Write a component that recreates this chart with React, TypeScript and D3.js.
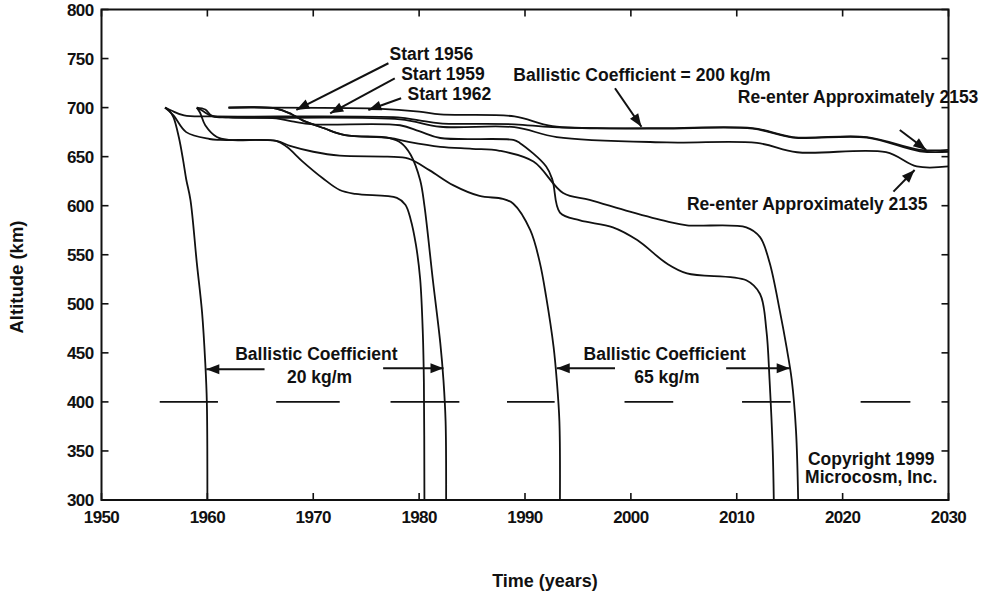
import React from 'react';
import * as d3 from 'd3';

type Pt = [number, number];

const xTicks = [1950, 1960, 1970, 1980, 1990, 2000, 2010, 2020, 2030];
const yTicks = [300, 350, 400, 450, 500, 550, 600, 650, 700, 750, 800];

// Ballistic coefficient 20 kg/m
const bc20Start1956: Pt[] = [[1956,700],[1956.4,697],[1956.8,690],[1957.3,670],[1957.7,647],[1958.0,627],[1958.4,606],[1959.0,542],[1959.5,491],[1959.8,440],[1959.95,400],[1960,300]];
const bc20Start1959: Pt[] = [[1959,700],[1959.3,695],[1959.8,682],[1960.9,670],[1962.1,667],[1966.5,666],[1967.5,660],[1969,645],[1970.9,628],[1972.5,616],[1974,612],[1977.9,608],[1978.7,601],[1979.2,586],[1979.7,560],[1980.1,525],[1980.35,470],[1980.45,420],[1980.5,300]];
const bc20Start1962: Pt[] = [[1962,700],[1966.5,699],[1968,693],[1969,687],[1971,679],[1973,672],[1977.2,669],[1978.3,664],[1979.2,652],[1980.1,626],[1980.5,600],[1981.3,524],[1982,460],[1982.3,422],[1982.5,380],[1982.55,300]];
// Ballistic coefficient 65 kg/m
const bc65Start1956: Pt[] = [[1956,700],[1956.8,692],[1958.0,675],[1960.2,668],[1961.2,667],[1966.5,666],[1967.8,661],[1970,655],[1972.5,651],[1977,650],[1979,648],[1981,636],[1983.2,621],[1985.7,610],[1987.9,607],[1988.9,602],[1990.5,575],[1991.4,542],[1992,507],[1992.7,456],[1993.0,422],[1993.25,380],[1993.3,300]];
const bc65Start1959: Pt[] = [[1959,700],[1959.5,697],[1960.5,691],[1962,690],[1966.5,689],[1968,686],[1970,683],[1978.2,682],[1980,676],[1982,669],[1988.9,667],[1989.5,664],[1992,640],[1992.6,626],[1993.3,593],[1995.2,585],[1998.3,578],[2000.6,565],[2003.4,541],[2005.3,531],[2010.9,524],[2012.2,510],[2012.8,473],[2013.1,422],[2013.4,350],[2013.5,300]];
const bc65Start1962: Pt[] = [[1962,700],[1966.5,699],[1968,693],[1969,687],[1971,679],[1973,672],[1977.2,669],[1979,665],[1982,660],[1985,658],[1987.6,656],[1990.8,645],[1993.6,613],[1996.1,606],[1999.9,594],[2003.4,584],[2005.3,580],[2010.9,578],[2012.2,568],[2013.1,542],[2014.1,491],[2014.7,456],[2015.2,422],[2015.6,370],[2015.8,300]];
// Ballistic coefficient 200 kg/m
const bc200Start1956: Pt[] = [[1956,700],[1956.6,697],[1957.8,692],[1960.6,691],[1978,690],[1980,687],[1982,684],[1989,683],[1992.6,680],[2002.4,678.5],[2011.5,678.5],[2015.3,669.5],[2022.3,669.5],[2027.3,655.5],[2030,655]];
const bc200Start1959: Pt[] = [[1959,700],[1959.8,698],[1960.4,692],[1962,690],[1978.2,688],[1982,680.5],[1989,680],[1993,670],[2003.4,664.5],[2011.9,664],[2015.7,654.5],[2024.1,654.5],[2027,640],[2030,640]];
const bc200Start1962: Pt[] = [[1962,700],[1976,699],[1980,696],[1982,693],[1989,691],[1992.6,681],[2002.4,679],[2011.5,679],[2015.3,670],[2022.3,670],[2027.3,657],[2030,657]];

const curves: Pt[][] = [bc20Start1956, bc20Start1959, bc20Start1962, bc65Start1956, bc65Start1959, bc65Start1962, bc200Start1956, bc200Start1959, bc200Start1962];

// 400 km reference line, dashes given as [start year, end year]
const refAltitude = 400;
const refDashes: Pt[] = [[1955.5,1961.0],[1966.5,1972.5],[1977.3,1983.8],[1988.3,1992.8],[1999.4,2004.0],[2010.5,2015.1],[2021.7,2026.4]];

// annotation arrows: [from, tip] in data units
const arrows: [Pt, Pt][] = [
  [[1977.1,745.2],[1968.4,697.6]],
  [[1977.7,729.9],[1971.6,694.2]],
  [[1978.3,709.5],[1975.2,697.6]],
  [[1998.5,719.7],[2001.0,680.5]],
  [[2025.4,677.2],[2027.9,656.8]],
  [[2024.8,614.3],[2026.8,636.4]],
  [[1965.4,433.2],[1959.9,433.2]],
  [[1976.6,434.3],[1982.3,434.3]],
  [[1998.5,434.3],[1993.0,434.3]],
  [[2009.0,434.3],[2015.0,434.3]],
];

type Label = { text: string; at: Pt; anchor: 'start' | 'middle' | 'end' };
const labels: Label[] = [
  { text: 'Start 1956', at: [1977.2,755.4], anchor: 'start' },
  { text: 'Start 1959', at: [1978.3,735.0], anchor: 'start' },
  { text: 'Start 1962', at: [1978.9,714.6], anchor: 'start' },
  { text: 'Ballistic Coefficient = 200 kg/m', at: [1988.9,733.2], anchor: 'start' },
  { text: 'Re-enter Approximately 2153', at: [2010.1,711.1], anchor: 'start' },
  { text: 'Re-enter Approximately 2135', at: [2005.3,602.4], anchor: 'start' },
  { text: 'Ballistic Coefficient', at: [1970.3,449.5], anchor: 'middle' },
  { text: '20 kg/m', at: [1970.6,425.7], anchor: 'middle' },
  { text: 'Ballistic Coefficient', at: [2003.2,449.5], anchor: 'middle' },
  { text: '65 kg/m', at: [2003.4,425.7], anchor: 'middle' },
  { text: 'Copyright 1999', at: [2022.7,342.5], anchor: 'middle' },
  { text: 'Microcosm, Inc.', at: [2022.7,323.8], anchor: 'middle' },
];

const FONT = '"Liberation Sans", Arial, Helvetica, sans-serif';

export default function App() {
  const x = d3.scaleLinear().domain([1950, 2030]).range([101.5, 948.5]);
  const y = d3.scaleLinear().domain([300, 800]).range([500, 9.5]);
  const line = d3.line<Pt>().x(d => x(d[0])).y(d => y(d[1])).curve(d3.curveCatmullRom.alpha(0.5));
  const x0 = x(1950), x1 = x(2030), y0 = y(300), y1 = y(800);
  const tl = 7;

  const arrowHead = (from: Pt, tip: Pt) => {
    const fx = x(from[0]), fy = y(from[1]), tx = x(tip[0]), ty = y(tip[1]);
    const a = Math.atan2(ty - fy, tx - fx);
    const L = 13, Wd = 5;
    const bx = tx - L * Math.cos(a), by = ty - L * Math.sin(a);
    const px = -Math.sin(a) * Wd, py = Math.cos(a) * Wd;
    return `M${tx},${ty}L${bx + px},${by + py}L${bx - px},${by - py}Z`;
  };

  return (
    <svg width={994} height={592} style={{ position: 'absolute', left: 0, top: 0, background: '#fff' }} fontFamily={FONT}>
      <rect x={0} y={0} width={994} height={592} fill="#fff" />
      {refDashes.map((d, i) => (
        <line key={'d' + i} x1={x(d[0])} x2={x(d[1])} y1={y(refAltitude)} y2={y(refAltitude)} stroke="#111" strokeWidth={1.6} />
      ))}
      {curves.map((c, i) => (
        <path key={'c' + i} d={line(c) || ''} fill="none" stroke="#111" strokeWidth={1.8} strokeLinejoin="round" />
      ))}
      <rect x={x0} y={y1} width={x1 - x0} height={y0 - y1} fill="none" stroke="#111" strokeWidth={2} />
      {xTicks.map(t => (
        <g key={'xt' + t}>
          <line x1={x(t)} x2={x(t)} y1={y0} y2={y0 - tl} stroke="#111" strokeWidth={1.6} />
          <line x1={x(t)} x2={x(t)} y1={y1} y2={y1 + tl} stroke="#111" strokeWidth={1.6} />
          <text x={x(t)} y={y0 + 23} textAnchor="middle" fontSize={17} fontWeight="bold" fill="#111" letterSpacing={-0.6}>{t}</text>
        </g>
      ))}
      {yTicks.map(t => (
        <g key={'yt' + t}>
          <line x1={x0} x2={x0 + tl} y1={y(t)} y2={y(t)} stroke="#111" strokeWidth={1.6} />
          <line x1={x1} x2={x1 - tl} y1={y(t)} y2={y(t)} stroke="#111" strokeWidth={1.6} />
          <text x={x0 - 8} y={y(t)} dy="0.36em" textAnchor="end" fontSize={17} fontWeight="bold" fill="#111" letterSpacing={-0.6}>{t}</text>
        </g>
      ))}
      {arrows.map((a, i) => (
        <g key={'a' + i}>
          <line x1={x(a[0][0])} y1={y(a[0][1])} x2={x(a[1][0])} y2={y(a[1][1])} stroke="#111" strokeWidth={2} />
          <path d={arrowHead(a[0], a[1])} fill="#111" />
        </g>
      ))}
      {labels.map((l, i) => (
        <text key={'l' + i} x={x(l.at[0])} y={y(l.at[1])} dy="0.36em" textAnchor={l.anchor} fontSize={17.5} fontWeight="bold" fill="#111">{l.text}</text>
      ))}
      <text x={545} y={587} textAnchor="middle" fontSize={18} fontWeight="bold" fill="#111">Time (years)</text>
      <text transform="translate(23,277) rotate(-90)" textAnchor="middle" fontSize={18.5} fontWeight="bold" fill="#111">Altitude (km)</text>
    </svg>
  );
}
